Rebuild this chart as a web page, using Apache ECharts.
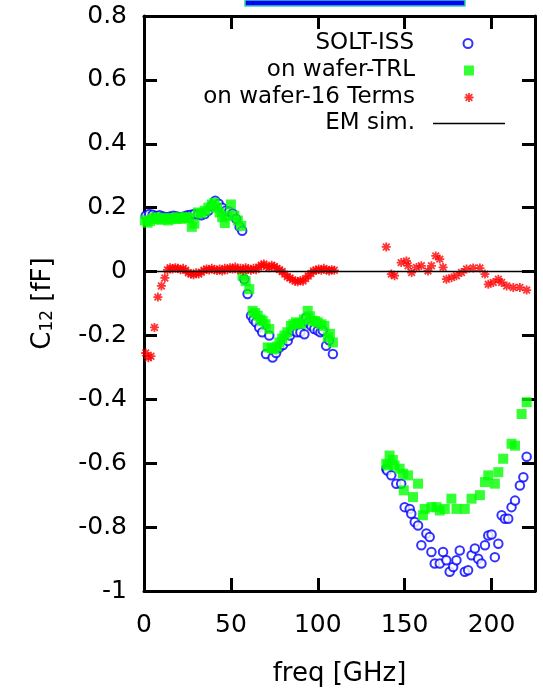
<!DOCTYPE html>
<html>
<head>
<meta charset="utf-8">
<script src="https://cdn.jsdelivr.net/npm/echarts@6/dist/echarts.min.js"></script>
<style>
html, body { margin: 0; padding: 0; background: #fff; }
#myChart { width: 543px; height: 695px; }
</style>
</head>
<body>
<div id="myChart"></div>
<script>
// SOLT-ISS (blue circles)
const solFreq = [1, 3, 5, 7, 9, 11, 13, 15, 17, 19, 21, 23, 25, 27, 29, 31, 33, 35, 37, 39, 41, 43, 45, 47, 49, 51, 53, 55, 56.5,
  57.7, 59.6, 61.6, 63, 64.4, 66.3, 68, 70.2, 72.1, 74, 76, 77.9, 80, 82.7, 84, 85.6, 88, 90, 92.3, 93.3, 94.5, 96.2, 98, 100, 101.5, 102.9, 104.8, 106.5, 108.7,
  139.4, 140, 142.3, 145.2, 148, 150, 152.9, 153.8, 155.8, 157.7, 159.6, 162.5, 164.4, 165.4, 167.3, 170.2, 172.1, 174, 175.9, 177.9, 179.8,
  181.7, 184.6, 186.5, 188.5, 190.4, 192.3, 194.2, 196.2, 198.1, 200, 201.9, 203.9, 205.8, 207.7, 209.6, 211.5, 213.5, 216.3, 218.3, 220.2];
const solVal = [0.175, 0.18, 0.178, 0.174, 0.176, 0.172, 0.17, 0.172, 0.175, 0.172, 0.17, 0.172, 0.176, 0.178, 0.18, 0.178, 0.176, 0.18, 0.19, 0.205, 0.222, 0.212, 0.2, 0.19, 0.188, 0.182, 0.165, 0.14, 0.128,
  -0.024, -0.07, -0.138, -0.15, -0.159, -0.175, -0.19, -0.258, -0.2, -0.269, -0.255, -0.2375, -0.23, -0.217, -0.2, -0.185, -0.19, -0.19, -0.196, -0.144, -0.16, -0.17, -0.18, -0.185, -0.19, -0.185, -0.232, -0.215, -0.258,
  -0.617, -0.623, -0.638, -0.664, -0.664, -0.7375, -0.743, -0.758, -0.784, -0.795, -0.857, -0.82, -0.831, -0.878, -0.914, -0.914, -0.878, -0.904, -0.94, -0.925, -0.904,
  -0.873, -0.94, -0.935, -0.888, -0.867, -0.899, -0.914, -0.857, -0.826, -0.823, -0.894, -0.852, -0.763, -0.774, -0.774, -0.7375, -0.717, -0.67, -0.644, -0.58];

// on wafer-TRL (green squares)
const trlFreq = [0.5, 2, 3.5, 5, 6.5, 8, 9.5, 11, 12.5, 14, 15.5, 17, 18.5, 20, 21.5, 23, 24.5, 26, 27.5, 29, 31, 33, 35, 37, 39, 40.5, 42, 43.5, 45, 46.5, 48, 50, 52, 54, 56,
  56.7, 58.5, 60.6, 62.5, 64, 65.4, 67, 68.3, 70, 71.2, 72.1, 73.5, 75, 76.5, 77.9, 79.5, 80.8, 82.5, 84.6, 86, 87.5, 89, 90.4, 92, 94.2, 95.5, 97.1, 98.5, 100, 102, 103.8, 105.8, 107, 108.7,
  139.4, 140.4, 141.3, 143.2, 144.2, 147.1, 149, 149.5, 151.9, 154.8, 157.7, 160.5, 161.5, 165.4, 168.3, 170.2, 173.1, 176.9, 179.8, 184.6, 188.5,
  193.3, 196.2, 198.1, 201.9, 203.9, 206.7, 211.5, 213.5, 217.3, 220.2];
const trlVal = [0.16, 0.153, 0.158, 0.165, 0.17, 0.165, 0.162, 0.168, 0.165, 0.16, 0.165, 0.168, 0.165, 0.17, 0.165, 0.168, 0.17, 0.168, 0.14, 0.15, 0.185, 0.182, 0.19, 0.2, 0.21, 0.215, 0.2, 0.185, 0.17, 0.152, 0.175, 0.21, 0.175, 0.16, 0.143,
  -0.013, -0.03, -0.055, -0.123, -0.13, -0.138, -0.15, -0.154, -0.165, -0.2375, -0.18, -0.24, -0.243, -0.235, -0.222, -0.21, -0.2, -0.19, -0.17, -0.165, -0.159, -0.162, -0.164, -0.15, -0.123, -0.14, -0.154, -0.155, -0.159, -0.165, -0.17, -0.206, -0.195, -0.222,
  -0.602, -0.607, -0.576, -0.59, -0.607, -0.617, -0.633, -0.685, -0.638, -0.706, -0.664, -0.763, -0.743, -0.7375, -0.7375, -0.748, -0.743, -0.711, -0.743, -0.743, -0.711,
  -0.7, -0.659, -0.638, -0.664, -0.628, -0.586, -0.539, -0.545, -0.446, -0.409];

// on wafer-16 Terms (red asterisks)
const termFreq = [1, 2.5, 4, 6, 8, 10, 12, 13.5, 15, 16.5, 18, 19.5, 21, 22.5, 24, 25.5, 27, 28.5, 30, 31.5, 33, 34.5, 36, 37.5, 39, 40.5, 42, 43.5, 45, 46.5, 48, 49.5,
  51, 52.5, 54, 55.5, 57, 58.5, 60, 61.5, 63, 64.5, 66, 67.5, 69, 70.5, 72, 73.5, 75, 76.5, 78, 79.5, 81, 82.5, 84, 85.5, 87, 88.5, 90, 91.5, 93, 94.5, 96, 97.5,
  99, 100.5, 102, 103.5, 105, 106.5, 108, 109.5,
  139.4, 142.3, 144.2, 148, 151, 152, 154, 156.8, 159.6, 163.4, 165.4, 167.9, 170.2, 172.1, 174, 177, 179.8, 182.7, 185.6, 189.4, 193.3, 196.2, 198.1, 201, 203.9, 205.8, 208.7, 212.5, 216.3, 220.2];
const termVal = [-0.255, -0.27, -0.265, -0.175, -0.08, -0.045, -0.02, 0.005, 0.012, 0.008, 0.012, 0.01, 0.006, 0.01, 0.004, -0.004, -0.008, -0.01, -0.004, -0.008, -0.002, 0.004, 0.008, 0.005, 0.01, 0.006, 0.003, 0.008, 0.002, 0.01, 0.006, 0.012,
  0.008, 0.014, 0.006, 0.01, 0.004, 0.012, 0.008, 0.004, 0.01, 0.006, 0.014, 0.02, 0.024, 0.016, 0.012, 0.02, 0.016, 0.01, 0.006, 0.0, -0.008, -0.016, -0.02, -0.026, -0.03, -0.032, -0.028, -0.03, -0.022, -0.014, -0.006, 0.002,
  0.004, 0.008, 0.004, 0.01, 0.006, 0.002, 0.006, 0.004,
  0.077, -0.008, -0.013, 0.028, 0.033, 0.018, -0.003, 0.013, 0.018, 0.002, 0.018, 0.049, 0.039, 0.013, -0.024, -0.019, -0.013, -0.003, 0.008, 0.011, 0.011, -0.008, -0.04, -0.034, -0.024, -0.034, -0.045, -0.05, -0.05, -0.058];

// EM sim. (black line)
const emFreq = [0, 110, 225];
const emVal = [0, 0, 0];

const xTicks = { min: 0, max: 225, interval: 50 };
const yTicks = { min: -1, max: 0.8, interval: 0.2 };

function pairs(xs, ys) {
  return xs.map((x, i) => [x, ys[i]]);
}

const font = 'DejaVu Sans';
// gnuplot style asterisk: plus + cross, all arms wound the same way
const asterisk = 'path://M4,0h2v10h-2z M0,4h10v2h-10z M0.6,2L2,0.6L9.4,8L8,9.4Z M2,9.4L0.6,8L8,0.6L9.4,2Z';

let Chart = echarts.init(document.getElementById('myChart'));

const axisLine = { show: true, onZero: false, lineStyle: { color: '#000', width: 3 } };
const axisTick = { show: true, inside: true, length: 13, lineStyle: { color: '#000', width: 3 } };

// one legend per row: text right aligned, symbol centred at x=469
function legendItem(item, top, w, h) {
  return {
    data: [item],
    orient: 'vertical',
    right: 543 - 469 - w / 2,
    top: top,
    padding: 0,
    align: 'right',
    itemWidth: w,
    itemHeight: h,
    selectedMode: false,
    textStyle: { fontFamily: font, fontSize: 23, color: '#000', padding: [0, 49 - w / 2, 0, 0] }
  };
}

Chart.setOption({
  animation: false,
  backgroundColor: '#fff',
  grid: { left: 144, right: 8, top: 16, bottom: 104 },
  legend: [
    legendItem('SOLT-ISS', 32, 9, 9),
    legendItem('on wafer-TRL', 59, 10, 10),
    legendItem('on wafer-16 Terms', 86, 9, 9),
    legendItem({ name: 'EM sim.', icon: 'rect' }, 112, 72, 1.5)
  ],
  graphic: [
    {
      type: 'rect',
      shape: { x: 245, y: 0, width: 220, height: 6 },
      style: { fill: '#0000ff', stroke: '#30d8a0', lineWidth: 1.5 }
    }
  ],
  xAxis: [
    {
      type: 'value',
      min: xTicks.min, max: xTicks.max, interval: xTicks.interval,
      name: 'freq [GHz]',
      nameLocation: 'middle',
      nameGap: 70,
      nameTextStyle: { fontFamily: font, fontSize: 26, color: '#000' },
      axisLine: axisLine,
      axisTick: axisTick,
      axisLabel: { margin: 22, fontFamily: font, fontSize: 25, color: '#000', showMaxLabel: false },
      splitLine: { show: false }
    },
    {
      type: 'value', position: 'top',
      min: xTicks.min, max: xTicks.max, interval: xTicks.interval,
      axisLine: axisLine, axisTick: axisTick,
      axisLabel: { show: false }, splitLine: { show: false }
    }
  ],
  yAxis: [
    {
      type: 'value',
      min: yTicks.min, max: yTicks.max, interval: yTicks.interval,
      name: '{c|C}{s|12}{c| [fF]}',
      nameLocation: 'middle',
      nameGap: 88,
      nameRotate: 90,
      nameTextStyle: {
        rich: {
          c: { fontFamily: font, fontSize: 26, color: '#000', lineHeight: 30, verticalAlign: 'bottom' },
          s: { fontFamily: font, fontSize: 17, color: '#000', lineHeight: 14, verticalAlign: 'bottom' }
        }
      },
      axisLine: axisLine,
      axisTick: axisTick,
      axisLabel: { margin: 17, fontFamily: font, fontSize: 25, color: '#000' },
      splitLine: { show: false }
    },
    {
      type: 'value', position: 'right',
      min: yTicks.min, max: yTicks.max, interval: yTicks.interval,
      axisLine: axisLine, axisTick: axisTick,
      axisLabel: { show: false }, splitLine: { show: false }
    }
  ],
  series: [
    {
      name: 'SOLT-ISS',
      type: 'scatter',
      symbol: 'circle',
      symbolSize: 8.5,
      itemStyle: { color: '#fff', borderColor: '#0000ff', borderWidth: 2 },
      data: pairs(solFreq, solVal)
    },
    {
      name: 'on wafer-TRL',
      type: 'scatter',
      symbol: 'rect',
      symbolSize: 10,
      itemStyle: { color: '#00ff00' },
      data: pairs(trlFreq, trlVal)
    },
    {
      name: 'on wafer-16 Terms',
      type: 'scatter',
      symbol: asterisk,
      symbolSize: 9,
      itemStyle: { color: '#ff0000' },
      data: pairs(termFreq, termVal)
    },
    {
      name: 'EM sim.',
      type: 'line',
      symbol: 'none',
      showSymbol: false,
      lineStyle: { color: '#000', width: 1.5 },
      itemStyle: { color: '#000' },
      data: pairs(emFreq, emVal)
    }
  ]
}, true);
</script>
</body>
</html>
